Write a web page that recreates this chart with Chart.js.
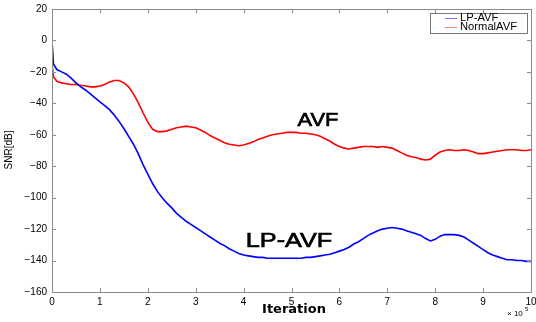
<!DOCTYPE html>
<html>
<head>
<meta charset="utf-8">
<script src="https://cdn.jsdelivr.net/npm/chart.js@4"></script>
<style>
  html, body { margin: 0; padding: 0; background: #fff; }
  #wrap { width: 536px; height: 322px; }
</style>
</head>
<body>
<div id="wrap"><canvas id="snrChart"></canvas></div>
<script>
// iteration axis is in units of 1e5
const iterations = [0, 0.03,
  0.1, 0.2, 0.3, 0.4, 0.5, 0.6, 0.7, 0.8, 0.9, 1.0,
  1.1, 1.2, 1.3, 1.4, 1.5, 1.6, 1.7, 1.8, 1.9, 2.0,
  2.1, 2.2, 2.3, 2.4, 2.5, 2.6, 2.7, 2.8, 2.9, 3.0,
  3.1, 3.2, 3.3, 3.4, 3.5, 3.6, 3.7, 3.8, 3.9, 4.0,
  4.1, 4.2, 4.3, 4.4, 4.5, 4.6, 4.7, 4.8, 4.9, 5.0,
  5.1, 5.2, 5.3, 5.4, 5.5, 5.6, 5.7, 5.8, 5.9, 6.0,
  6.1, 6.2, 6.3, 6.4, 6.5, 6.6, 6.7, 6.8, 6.9, 7.0,
  7.1, 7.2, 7.3, 7.4, 7.5, 7.6, 7.7, 7.8, 7.9, 8.0,
  8.1, 8.2, 8.3, 8.4, 8.5, 8.6, 8.7, 8.8, 8.9, 9.0,
  9.1, 9.2, 9.3, 9.4, 9.5, 9.6, 9.7, 9.8, 9.9, 10.0];

const lpAvf = [0, -15,
  -18.5, -20, -21.5, -24, -27, -29.5, -31.5, -34, -36.5, -39,
  -41.5, -44, -47.5, -51.5, -56, -61, -66, -72, -79, -85,
  -91, -96, -100, -103.5, -106.5, -110, -112.5, -115, -117, -119,
  -121, -123, -125, -127, -129, -130.5, -132.5, -134, -135.5, -136.5,
  -137, -137.5, -138, -138, -138.5, -138.5, -138.5, -138.5, -138.5, -138.5,
  -138.5, -138.5, -138, -138, -137.5, -137, -136.5, -136, -135, -134,
  -133, -131.5, -129.5, -128, -126, -124, -122.5, -121, -120, -119.5,
  -119, -119.5, -120, -121, -122, -123, -124, -126, -127.5, -126.5,
  -124.5, -123.5, -123.5, -123.5, -124, -125, -127, -129, -131, -133,
  -135, -136.5, -137.5, -138.5, -139.5, -139.5, -140, -140, -140.5, -140.5];

const normalAvf = [-15, -23,
  -26, -27, -27.5, -28, -28, -28.5, -29, -29.5, -29.5, -29,
  -28, -26.5, -25.5, -25.5, -27, -29.5, -34, -39.5, -46, -52,
  -56.5, -58, -58, -57.5, -56.5, -55.5, -55, -54.5, -55, -55.5,
  -57, -58.5, -60.5, -62, -63.5, -65, -66, -66.5, -67, -66.5,
  -65.5, -64.5, -63, -62, -61, -60, -59.5, -59, -58.5, -58.5,
  -58.5, -59, -59, -59.5, -60, -61, -62.5, -64, -66, -67.5,
  -68.5, -69, -68.5, -68, -67.5, -67.5, -67.5, -68, -67.5, -68,
  -68.5, -70, -71.5, -73, -74, -74.5, -75.5, -76, -75.5, -73,
  -71, -70, -69.5, -70, -70, -69.5, -70, -71, -72, -72,
  -71.5, -71, -70.5, -70, -69.5, -69.5, -69.5, -70, -70, -69.5];

const seriesNames = ['LP-AVF', 'NormalAVF'];
const xTicks = [0, 1, 2, 3, 4, 5, 6, 7, 8, 9, 10];
const yTicks = [20, 0, -20, -40, -60, -80, -100, -120, -140, -160];

const toPoints = (ys) => iterations.map((x, i) => ({ x: x, y: ys[i] }));

const axisGray = '#8a8a8a';
const labelFont = 'Liberation Sans, Arial, sans-serif';

// text drawn a bit wider than the font, like the original figure
function wideText(ctx, text, x, y, stretch, weight) {
  ctx.save();
  ctx.translate(x, y);
  ctx.scale(stretch, 1);
  ctx.fillText(text, 0, 0);
  if (weight) {
    ctx.lineWidth = weight;
    ctx.strokeStyle = ctx.fillStyle;
    ctx.strokeText(text, 0, 0);
  }
  ctx.restore();
}

// box, inward ticks, legend and the text labels
const frame = {
  id: 'frame',
  afterDraw(chart) {
    const ctx = chart.ctx;
    const a = chart.chartArea;
    const xs = chart.scales.x, ys = chart.scales.y;
    ctx.save();
    ctx.strokeStyle = axisGray;
    ctx.lineWidth = 1;
    ctx.strokeRect(Math.round(a.left) + 0.5, Math.round(a.top) + 0.5,
      Math.round(a.right - a.left), Math.round(a.bottom - a.top));
    ctx.beginPath();
    xTicks.forEach(v => {
      const px = Math.round(xs.getPixelForValue(v)) + 0.5;
      ctx.moveTo(px, a.bottom); ctx.lineTo(px, a.bottom - 4);
      ctx.moveTo(px, a.top); ctx.lineTo(px, a.top + 4);
    });
    yTicks.forEach(v => {
      const py = Math.round(ys.getPixelForValue(v)) + 0.5;
      ctx.moveTo(a.left, py); ctx.lineTo(a.left + 4, py);
      ctx.moveTo(a.right, py); ctx.lineTo(a.right - 4, py);
    });
    ctx.stroke();

    // legend
    ctx.fillStyle = '#fff';
    ctx.fillRect(430, 13, 98, 21);
    ctx.strokeStyle = '#777';
    ctx.strokeRect(430.5, 13.5, 97, 20);
    ctx.strokeStyle = '#6f6fff';
    ctx.beginPath(); ctx.moveTo(445, 18.5); ctx.lineTo(457, 18.5); ctx.stroke();
    ctx.strokeStyle = '#ff8080';
    ctx.beginPath(); ctx.moveTo(445, 27.5); ctx.lineTo(457, 27.5); ctx.stroke();
    ctx.fillStyle = '#000';
    ctx.font = '10px ' + labelFont;
    ctx.textAlign = 'left';
    ctx.textBaseline = 'middle';
    wideText(ctx, seriesNames[0], 460, 18.5, 1.12);
    wideText(ctx, seriesNames[1], 460, 27.5, 1.12);

    // curve labels
    ctx.textAlign = 'center';
    ctx.font = '19px ' + labelFont;
    wideText(ctx, 'AVF', 318, 121, 1.15, 0.7);
    ctx.font = '21px ' + labelFont;
    wideText(ctx, 'LP-AVF', 289, 241, 1.2, 0.7);

    // axis titles
    ctx.font = 'bold 13px DejaVu Sans, sans-serif';
    ctx.fillText('Iteration', 294, 310);
    ctx.font = '8px ' + labelFont;
    ctx.textAlign = 'left';
    ctx.fillText('\u00d7 10', 507, 314);
    ctx.font = '6px ' + labelFont;
    ctx.fillText('5', 525, 309);

    ctx.translate(9, 150);
    ctx.rotate(-Math.PI / 2);
    ctx.font = '10px ' + labelFont;
    ctx.textAlign = 'center';
    ctx.fillText('SNR[dB]', 0, 0);
    ctx.restore();
  }
};

new Chart(document.getElementById('snrChart'), {
  type: 'line',
  data: {
    datasets: [{
      label: seriesNames[0],
      data: toPoints(lpAvf),
      borderColor: '#0000ff',
      borderWidth: 1.6,
      pointRadius: 0,
      tension: 0
    }, {
      label: seriesNames[1],
      data: toPoints(normalAvf),
      borderColor: '#ff0000',
      borderWidth: 1.6,
      pointRadius: 0,
      tension: 0
    }]
  },
  plugins: [frame],
  options: {
    responsive: true,
    maintainAspectRatio: false,
    animation: false,
    devicePixelRatio: 1,
    layout: { padding: { left: 0, right: 5, top: 9, bottom: 0 } },
    plugins: { legend: { display: false }, tooltip: { enabled: false } },
    scales: {
      x: {
        type: 'linear',
        min: 0, max: 10,
        afterBuildTicks: (s) => { s.ticks = xTicks.map(v => ({ value: v })); },
        afterFit: (s) => { s.height = 30; s.paddingLeft = 0; s.paddingRight = 0; },
        grid: { display: false, drawTicks: false },
        border: { display: false },
        ticks: { color: '#000', padding: 4, maxRotation: 0, font: { size: 10, family: labelFont } }
      },
      y: {
        min: -160, max: 20,
        afterBuildTicks: (s) => { s.ticks = yTicks.map(v => ({ value: v })); },
        afterFit: (s) => { s.width = 52; s.paddingTop = 0; s.paddingBottom = 0; },
        grid: { display: false, drawTicks: false },
        border: { display: false },
        ticks: {
          color: '#000', padding: 5, font: { size: 10, family: labelFont },
          callback: (v) => String(v).replace('-', '\u2212')
        }
      }
    }
  }
});
</script>
</body>
</html>
